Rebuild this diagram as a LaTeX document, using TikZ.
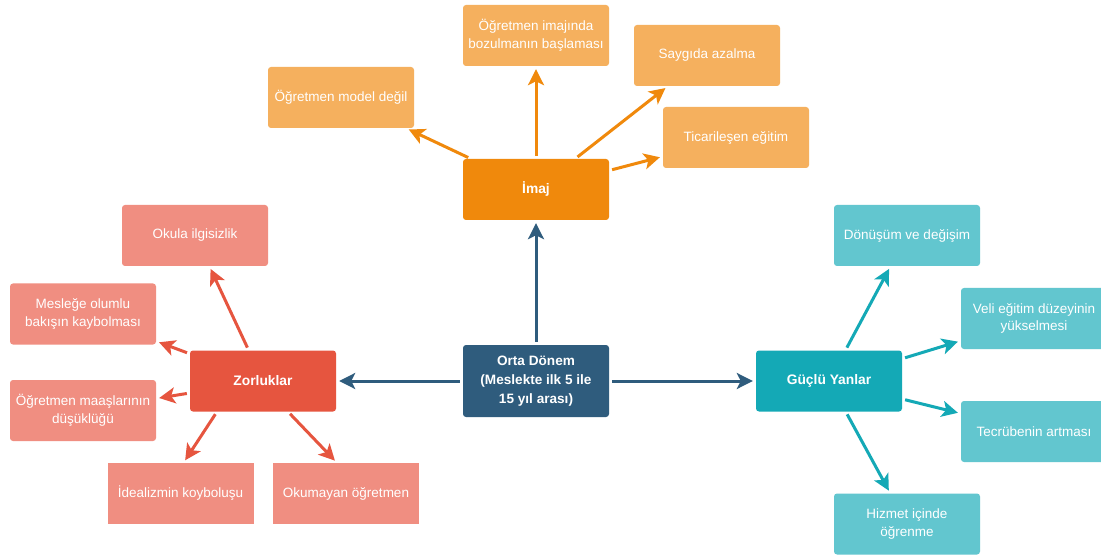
\documentclass[tikz,border=0pt]{standalone}
\usepackage{fontspec}
\setmainfont{Liberation Sans}
\usetikzlibrary{arrows.meta}

\definecolor{midblue}{HTML}{2F5C7D}
\definecolor{imajdark}{HTML}{F0890C}
\definecolor{imajlight}{HTML}{F5B05E}
\definecolor{zordark}{HTML}{E6553F}
\definecolor{zorlight}{HTML}{F08E81}
\definecolor{gucdark}{HTML}{14A9B6}
\definecolor{guclight}{HTML}{62C6CF}

\begin{document}
\begin{tikzpicture}[x=1pt,y=-1pt,
    box/.style={rectangle,rounded corners=3pt,minimum width=146pt,minimum height=61pt,align=center,text=white,inner sep=1pt,font=\fontsize{13.5}{17.5}\selectfont},
    main box/.style={box,font=\fontsize{13.8}{19}\selectfont\bfseries},
    link/.style={-{Stealth[length=16pt,width=16pt,inset=4pt]},line width=3pt,shorten >=3pt,shorten <=3pt}]
    \useasboundingbox[fill=white] (0,0) rectangle (1101,556);

    % centre
    \node[main box,fill=midblue,minimum height=72pt,font=\fontsize{13.6}{19}\selectfont\bfseries] (mid) at (536,381) {Orta Dönem\\(Meslekte ilk 5 ile\\15 yıl arası)};

    % imaj
    \node[main box,fill=imajdark] (imaj) at (536,189.5) {İmaj};
    \node[box,fill=imajlight] (imajinda) at (536,35.5) {Öğretmen imajında\\bozulmanın başlaması};
    \node[box,fill=imajlight] (saygi) at (707,55.5) {Saygıda azalma};
    \node[box,fill=imajlight] (model) at (341,97.5) {Öğretmen model değil};
    \node[box,fill=imajlight] (ticari) at (736,137.5) {Ticarileşen eğitim};

    % zorluklar
    \node[main box,fill=zordark] (zor) at (263,381) {Zorluklar};
    \node[box,fill=zorlight] (okula) at (195,235.5) {Okula ilgisizlik};
    \node[box,fill=zorlight] (meslege) at (83,314) {Mesleğe olumlu\\bakışın kaybolması};
    \node[box,fill=zorlight] (maas) at (83,410.5) {Öğretmen maaşlarının\\düşüklüğü};
    \node[box,fill=zorlight,sharp corners] (ideal) at (180.5,493.5) {İdealizmin koyboluşu};
    \node[box,fill=zorlight,sharp corners] (okuma) at (346,493.5) {Okumayan öğretmen};

    % guclu yanlar
    \node[main box,fill=gucdark] (guclu) at (829,381) {Güçlü Yanlar};
    \node[box,fill=guclight] (donusum) at (907,235.5) {Dönüşüm ve değişim};
    \node[box,fill=guclight] (veli) at (1034,318.5) {Veli eğitim düzeyinin\\yükselmesi};
    \node[box,fill=guclight] (tecrube) at (1034,431.5) {Tecrübenin artması};
    \node[box,fill=guclight] (hizmet) at (907,524) {Hizmet içinde\\öğrenme};

    \path[every edge/.append style={link,draw=midblue}]
        (mid) edge (imaj)
        (mid) edge (zor)
        (mid) edge (guclu);
    \path[every edge/.append style={link,draw=imajdark}]
        (imaj) edge (imajinda)
        (imaj) edge (saygi)
        (imaj) edge (model)
        (imaj) edge (ticari);
    \path[every edge/.append style={link,draw=zordark}]
        (zor) edge (okula)
        (zor) edge (meslege)
        (zor) edge (maas)
        ([xshift=-46pt]zor.south) edge ([xshift=3pt]ideal.north)
        ([xshift=25pt]zor.south) edge ([xshift=-9pt]okuma.north);
    \path[every edge/.append style={link,draw=gucdark}]
        (guclu) edge (donusum)
        (guclu) edge (veli)
        (guclu) edge (tecrube)
        (guclu) edge (hizmet);
\end{tikzpicture}
\end{document}
